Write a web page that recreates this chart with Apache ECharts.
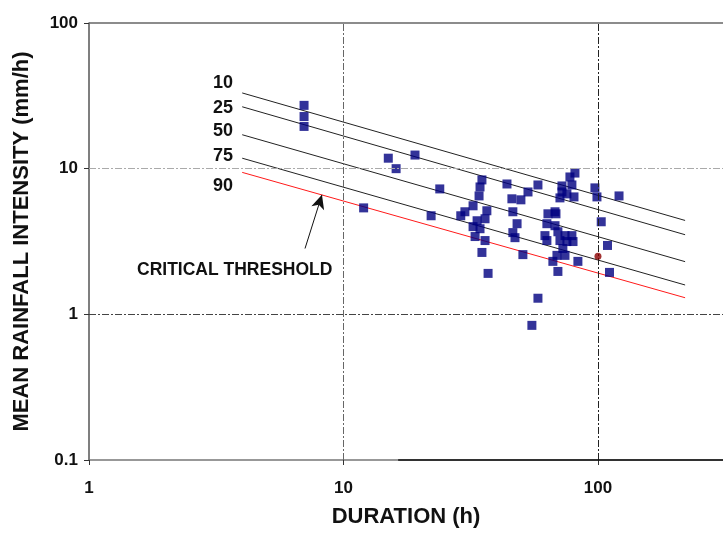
<!DOCTYPE html>
<html>
<head>
<meta charset="utf-8">
<script src="https://cdn.jsdelivr.net/npm/echarts@6/dist/echarts.min.js"></script>
<style>html,body{margin:0;padding:0;background:#fff}#c{width:723px;height:533px}</style>
</head>
<body>
<div id="c"></div>
<script>
// Rainfall events: duration (h) and mean intensity (mm/h)
const eventDuration = [7.0,7.0,7.0,12.0,15.0,16.1,19.1,23.9,22.1,35.0,34.4,34.1,32.3,30.0,28.9,36.6,36.0,33.5,32.3,34.4,32.9,36.0,35.0,37.0,43.9,45.9,49.8,53.1,58.1,46.3,48.1,46.3,47.2,50.7,58.1,55.0,63.6,67.8,61.9,63.0,63.0,72.2,79.0,72.2,75.5,70.9,80.5,81.2,77.6,97.3,99.1,121,103,109,111,68.4,67.8,69.6,74.2,79.0,70.9,75.5,79.8,72.8,69.0,66.5,69.6,74.2,83.4];
const eventIntensity = [27.2,22.8,19.5,5.38,11.8,10.0,12.4,7.26,4.75,8.37,7.49,6.50,5.56,5.06,4.75,5.14,4.53,4.39,4.00,3.87,3.42,3.21,2.66,1.91,7.85,6.21,6.11,6.92,7.73,5.06,4.19,3.64,3.36,2.57,1.29,0.84,4.90,5.06,3.47,3.21,4.19,7.61,7.73,6.92,6.71,6.30,6.40,9.33,8.77,7.38,6.40,6.50,4.32,2.97,1.94,4.90,4.06,3.69,3.47,3.47,3.21,3.16,3.16,2.83,2.54,2.31,1.97,2.54,2.31];
const specialDuration = [100];
const specialIntensity = [2.5];

// Percentile threshold lines (start / end)
const lineDurations = [4, 220];
const line10 = [33.1, 4.41];
const line25 = [26.6, 3.52];
const line50 = [17.1, 2.30];
const line75 = [11.8, 1.59];
const lineCritical = [9.43, 1.30];
const percentileLabels = ['10', '25', '50', '75', '90'];

const xTicks = [1, 10, 100];
const yTicks = [0.1, 1, 10, 100];

const pairs = (xs, ys) => xs.map((x, i) => [x, ys[i]]);
const chart = echarts.init(document.getElementById('c'), null, {renderer: 'canvas'});
const dashDot = [7, 2, 2, 2];
const FONT = 'Liberation Sans, Arial';
const lineSeries = (data, color) => ({
  type: 'line', data: pairs(lineDurations, data), showSymbol: false, symbol: 'none',
  lineStyle: {color: color, width: 1}, silent: true, z: 3
});

const labelYs = [84, 109, 132, 157, 187];

chart.setOption({
  animation: false,
  backgroundColor: '#ffffff',
  grid: {left: 89, top: 23, right: 0, bottom: 70, containLabel: false},
  xAxis: {
    type: 'log', logBase: 10, min: xTicks[0], max: 310,
    name: 'DURATION (h)', nameLocation: 'middle', nameGap: 46,
    nameTextStyle: {fontFamily: FONT, fontWeight: 'bold', fontSize: 22, color: '#111'},
    axisLine: {show: true, lineStyle: {color: '#777', width: 1.5}},
    axisTick: {show: true, length: 5, lineStyle: {color: '#333'}},
    axisLabel: {showMaxLabel: false, margin: 20, fontFamily: FONT, fontWeight: 'bold', fontSize: 17, color: '#111'},
    splitLine: {show: false}, minorTick: {show: false}
  },
  yAxis: {
    type: 'log', logBase: 10, min: yTicks[0], max: yTicks[yTicks.length - 1],
    name: 'MEAN RAINFALL INTENSITY (mm/h)', nameLocation: 'middle', nameGap: 56, nameRotate: 90,
    nameTextStyle: {fontFamily: FONT, fontWeight: 'bold', fontSize: 22, color: '#111'},
    axisLine: {show: true, lineStyle: {color: '#555', width: 1.5}},
    axisTick: {show: true, length: 5, lineStyle: {color: '#333'}},
    axisLabel: {margin: 11, fontFamily: FONT, fontWeight: 'bold', fontSize: 17, color: '#111'},
    splitLine: {show: false}
  },
  graphic: percentileLabels.map((t, i) => ({
    type: 'text', left: 213, top: labelYs[i] - 10,
    style: {text: t, font: 'bold 18px "Liberation Sans", Arial', fill: '#111'}
  })).concat([{
    type: 'text', left: 137, top: 261,
    style: {text: 'CRITICAL THRESHOLD', font: 'bold 17.5px "Liberation Sans", Arial', fill: '#111'}
  }]),
  series: [
    {
      type: 'line', data: [], silent: true,
      markLine: {
        silent: true, symbol: 'none', label: {show: false},
        data: [
          {yAxis: 100, lineStyle: {color: '#666', type: 'solid', width: 1.5}},
          {yAxis: 10, lineStyle: {color: '#aaa', type: dashDot, width: 1}},
          {yAxis: 1, lineStyle: {color: '#444', type: dashDot, width: 1}},
          {xAxis: 10, lineStyle: {color: '#666', type: dashDot, width: 1}},
          {xAxis: 100, lineStyle: {color: '#222', type: dashDot, width: 1}},
          [{coord: [16.4, 0.1], lineStyle: {color: '#111', type: 'solid', width: 1.5}}, {coord: [310, 0.1]}]
        ]
      }
    },
    lineSeries(line10, '#222'),
    lineSeries(line25, '#222'),
    lineSeries(line50, '#222'),
    lineSeries(line75, '#222'),
    Object.assign(lineSeries(lineCritical, '#ff1a1a'), {
      markLine: {
        silent: true, symbol: ['none', 'arrow'], symbolSize: [10, 14], label: {show: false},
        lineStyle: {color: '#111', type: 'solid', width: 1},
        data: [[{coord: [7.06, 2.83]}, {coord: [8.23, 6.61]}]]
      }
    }),
    {
      type: 'scatter', data: pairs(eventDuration, eventIntensity),
      symbol: 'rect', symbolSize: 9, itemStyle: {color: '#000080'}, z: 4
    },
    {
      type: 'scatter', data: pairs(specialDuration, specialIntensity),
      symbol: 'circle', symbolSize: 7, itemStyle: {color: '#8b0000'}, z: 5
    }
  ]
});
</script>
</body>
</html>
